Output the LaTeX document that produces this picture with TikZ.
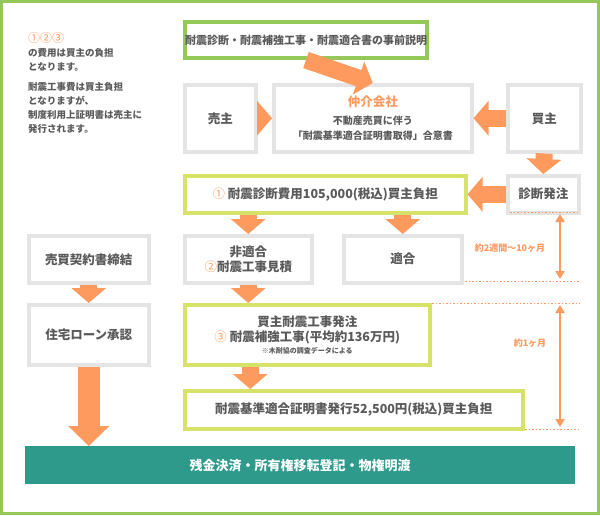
\documentclass[tikz,border=0pt]{standalone}
\usepackage{fontspec}
\setmainfont{Noto Sans CJK JP}
\usetikzlibrary{arrows.meta}
\definecolor{frame}{HTML}{94C95A}
\definecolor{lgreen}{HTML}{D6E26A}
\definecolor{gbox}{HTML}{E4E4E4}
\definecolor{org}{HTML}{FF9A5E}
\definecolor{txt}{HTML}{5A5A5A}
\definecolor{teal}{HTML}{2E9A8C}
\tikzset{
 base/.style={draw, line width=3.5pt, text=txt, font=\bfseries\fontsize{12.5}{15}\selectfont, align=center, inner sep=0pt, anchor=north west},
 gray box/.style={base, draw=gbox},
 yg box/.style={base, draw=lgreen},
 big/.style={draw=org, line width=17pt, -{Triangle[width=34pt 0, length=15pt 0]}},
 dbl/.style={draw=org, line width=2pt, {Triangle[width=9pt 0,length=8pt 0]}-{Triangle[width=9pt 0,length=8pt 0]}},
 dots/.style={draw=org, line width=0.8pt, dash pattern=on 1.5pt off 2pt},
 small/.style={text=txt, font=\bfseries\fontsize{9.5}{14}\selectfont, align=left, anchor=north west, inner sep=0pt}
}
\newcommand{\oc}[1]{\textcolor{org}{\fontseries{m}\selectfont #1}}
\begin{document}
\begin{tikzpicture}[x=1pt,y=-1pt]
\useasboundingbox (0,0) rectangle (600,515);
\draw[frame, line width=3pt] (1.5,1.5) rectangle (598.5,513.5);
% left notes
\node[small] (n1) at (28,32) {{\fontsize{12}{14}\selectfont\oc{①②③}}\\の費用は買主の負担\\となります。};
\node[small] (n2) at (28,82) {耐震工事費は買主負担\\となりますが、\\制度利用上証明書は売主に\\発行されます。};
% boxes
\node[base, draw=frame, line width=4pt, minimum width=226pt, minimum height=36pt, font=\bfseries\fontsize{11}{14}\selectfont] (top) at (183,20) {耐震診断・耐震補強工事・耐震適合書の事前説明};
\node[gray box, minimum width=71pt, minimum height=67pt] (seller) at (183,83) {売主};
\node[gray box, minimum width=198pt, minimum height=67pt] (agent) at (272,83) {\oc{\bfseries 仲介会社}\\[3pt]\fontsize{10}{13}\selectfont 不動産売買に伴う\\\fontsize{10}{13}\selectfont「耐震基準適合証明書取得」合意書};
\node[gray box, minimum width=73pt, minimum height=67pt] (buyer) at (506,83) {買主};
\node[gray box, minimum width=71pt, minimum height=37pt] (order) at (506,174) {診断発注};
\node[yg box, minimum width=281pt, minimum height=37pt] (diag) at (183,174) {\oc{①} 耐震診断費用105,000(税込)買主負担};
\node[gray box, minimum width=127pt, minimum height=47pt] (ng) at (183,234) {非適合\\\oc{②}耐震工事見積};
\node[gray box, minimum width=118pt, minimum height=47pt] (ok) at (342,234) {適合};
\node[gray box, minimum width=120pt, minimum height=47pt] (contract) at (27,234) {売買契約書締結};
\node[gray box, minimum width=120pt, minimum height=60pt] (loan) at (27,303) {住宅ローン承認};
\node[yg box, minimum width=245pt, minimum height=60pt] (work) at (183,303) {買主耐震工事発注\\\oc{③} 耐震補強工事(平均約136万円)\\[-3pt]\fontsize{7}{9}\selectfont ※木耐協の調査データによる};
\node[yg box, minimum width=338pt, minimum height=38pt] (cert) at (183,389) {耐震基準適合証明書発行52,500円(税込)買主負担};
\node[fill=teal, text=white, font=\bfseries\fontsize{13}{15}\selectfont, minimum width=550pt, minimum height=38pt, inner sep=0pt, anchor=north west] (final) at (25,446) {残金決済・所有権移転登記・物権明渡};
% arrows
\draw[big] (top.south) -- (agent.north);
\draw[big] (seller.east) -- (agent.west);
\draw[big] (buyer.west) -- (agent.east);
\draw[big] (buyer.south) -- (order.north);
\draw[big] (order.west) -- (diag.east);
\draw[big] (diag.south -| ng.north) -- (ng.north);
\draw[big] (diag.south -| ok.north) -- (ok.north);
\draw[big] (ng.south) -- (work.north -| ng.south);
\draw[big] (contract.south) -- (loan.north);
\draw[big] ([xshift=-57pt]work.south) -- ([xshift=-57pt]work.south |- cert.north);
\draw[big, line width=22pt, -{Triangle[width=40pt 0, length=20pt 0]}] (loan.south) -- (loan.south |- final.north);
% timing
\coordinate (d1a) at (510,212); \coordinate (d1b) at (580,212);
\coordinate (d2a) at (465,281); \coordinate (d2b) at (580,281);
\coordinate (d3a) at (432,303); \coordinate (d3b) at (580,303);
\coordinate (d4a) at (525,429); \coordinate (d4b) at (580,429);
\draw[dots] (d1a) -- (d1b); \draw[dots] (d2a) -- (d2b);
\draw[dots] (d3a) -- (d3b); \draw[dots] (d4a) -- (d4b);
\coordinate (t1) at (560,214); \coordinate (t2) at (560,279);
\coordinate (t3) at (560,305); \coordinate (t4) at (560,427);
\draw[dbl] (t1) -- (t2); \draw[dbl] (t3) -- (t4);
\node[text=org, font=\bfseries\fontsize{9}{11}\selectfont] (l1) at (510,248) {約2週間〜10ヶ月};
\node[text=org, font=\bfseries\fontsize{9}{11}\selectfont] (l2) at (530,343) {約1ヶ月};
\end{tikzpicture}
\end{document}
